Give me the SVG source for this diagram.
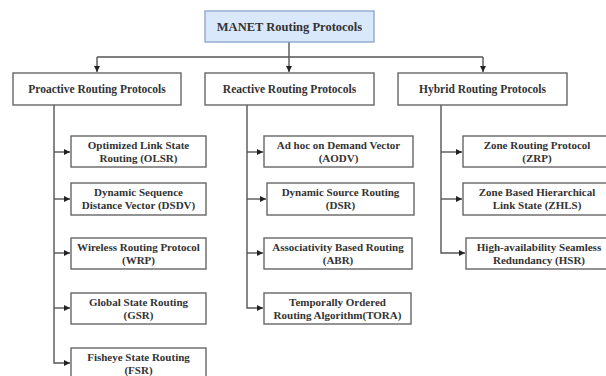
<svg xmlns="http://www.w3.org/2000/svg" width="606" height="376" viewBox="0 0 606 376">
<defs>
<style>
.box{fill:#ffffff;stroke:#666666;stroke-width:1.4}
.root{fill:#dae8fc;stroke:#8fa9d0;stroke-width:1.4}
text{font-family:"Liberation Serif","Times New Roman",serif;font-weight:bold;font-size:11px;fill:#333333;text-anchor:middle}
.t2{font-size:11.5px}
.t1{font-size:12.5px}
.c{fill:none;stroke:#555555;stroke-width:1.4}
</style>
<marker id="ah" viewBox="0 0 10 10" refX="10" refY="5" markerWidth="6" markerHeight="6" markerUnits="userSpaceOnUse" orient="auto">
<path d="M0,0 L10,5 L0,10 z" fill="#222222"/>
</marker>
</defs>
<rect width="606" height="376" fill="#ffffff"/>
<g id="connectors">
<path class="c" d="M289,42 V72" marker-end="url(#ah)"/>
<path class="c" d="M97,57 H483"/>
<path class="c" d="M97,57 V72" marker-end="url(#ah)"/>
<path class="c" d="M483,57 V72" marker-end="url(#ah)"/>
<path class="c" d="M54,105 V363 H70" marker-end="url(#ah)"/>
<path class="c" d="M54,152 H70" marker-end="url(#ah)"/>
<path class="c" d="M54,199 H70" marker-end="url(#ah)"/>
<path class="c" d="M54,253 H70" marker-end="url(#ah)"/>
<path class="c" d="M54,308 H70" marker-end="url(#ah)"/>
<path class="c" d="M247,105 V308 H263" marker-end="url(#ah)"/>
<path class="c" d="M247,152 H263" marker-end="url(#ah)"/>
<path class="c" d="M247,199 H266" marker-end="url(#ah)"/>
<path class="c" d="M247,253 H263" marker-end="url(#ah)"/>
<path class="c" d="M441,105 V253 H465" marker-end="url(#ah)"/>
<path class="c" d="M441,152 H462" marker-end="url(#ah)"/>
<path class="c" d="M441,199 H462" marker-end="url(#ah)"/>
</g>
<g id="manet"><rect class="root" x="205" y="11" width="169" height="31"/><text class="t1" x="289.5" y="31">MANET Routing Protocols</text></g>
<g id="proactive"><rect class="box" x="13" y="73" width="168" height="32"/><text class="t2" x="97" y="93">Proactive Routing Protocols</text></g>
<g id="reactive"><rect class="box" x="205" y="73" width="169" height="32"/><text class="t2" x="289.5" y="93">Reactive Routing Protocols</text></g>
<g id="hybrid"><rect class="box" x="398" y="73" width="169" height="32"/><text class="t2" x="482.5" y="93">Hybrid Routing Protocols</text></g>
<g id="olsr"><rect class="box" x="71" y="136" width="135" height="31"/><text x="138.5" y="149">Optimized Link State</text><text x="138.5" y="162">Routing (OLSR)</text></g>
<g id="dsdv"><rect class="box" x="71" y="183" width="135" height="32"/><text x="138.5" y="196">Dynamic Sequence</text><text x="138.5" y="209">Distance Vector (DSDV)</text></g>
<g id="wrp"><rect class="box" x="71" y="238" width="135" height="31"/><text x="138.5" y="251">Wireless Routing Protocol</text><text x="138.5" y="264">(WRP)</text></g>
<g id="gsr"><rect class="box" x="71" y="293" width="135" height="31"/><text x="138.5" y="306">Global State Routing</text><text x="138.5" y="319">(GSR)</text></g>
<g id="fsr"><rect class="box" x="71" y="348" width="135" height="32"/><text x="138.5" y="361">Fisheye State Routing</text><text x="138.5" y="374">(FSR)</text></g>
<g id="aodv"><rect class="box" x="264" y="136" width="149" height="31"/><text x="338.5" y="149">Ad hoc on Demand Vector</text><text x="338.5" y="162">(AODV)</text></g>
<g id="dsr"><rect class="box" x="267" y="183" width="147" height="32"/><text x="340.5" y="196">Dynamic Source Routing</text><text x="340.5" y="209">(DSR)</text></g>
<g id="abr"><rect class="box" x="264" y="238" width="148" height="31"/><text x="338" y="251">Associativity Based Routing</text><text x="338" y="264">(ABR)</text></g>
<g id="tora"><rect class="box" x="264" y="293" width="147" height="31"/><text x="337.5" y="306">Temporally Ordered</text><text x="337.5" y="319">Routing Algorithm(TORA)</text></g>
<g id="zrp"><rect class="box" x="463" y="136" width="149" height="31"/><text x="537" y="149">Zone Routing Protocol</text><text x="537" y="162">(ZRP)</text></g>
<g id="zhls"><rect class="box" x="463" y="183" width="149" height="32"/><text x="537" y="196">Zone Based Hierarchical</text><text x="537" y="209">Link State (ZHLS)</text></g>
<g id="hsr"><rect class="box" x="466" y="238" width="146" height="31"/><text x="539" y="251">High-availability Seamless</text><text x="539" y="264">Redundancy (HSR)</text></g>
</svg>
